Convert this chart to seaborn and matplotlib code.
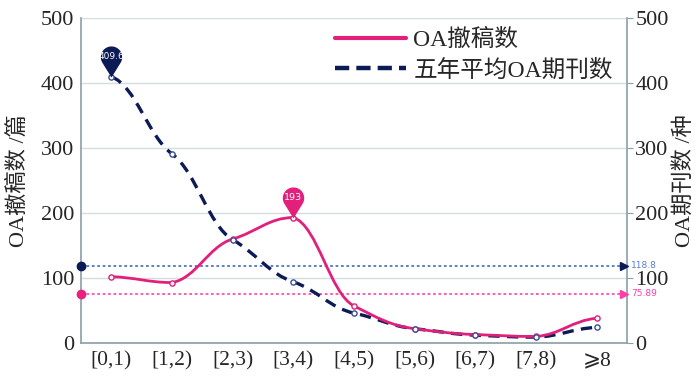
import numpy as np
import seaborn as sns
import matplotlib.pyplot as plt
from matplotlib.path import Path
from matplotlib.patches import PathPatch
from matplotlib.lines import Line2D

# data
categories = ['[0,1)', '[1,2)', '[2,3)', '[3,4)', '[4,5)', '[5,6)', '[6,7)', '[7,8)', '⩾8']
retractions = [102, 93, 160, 193, 57, 22, 13, 10, 38]
journals = [409.6, 291, 159, 94, 46, 22, 12, 9, 24]
mean_retractions = 75.89
mean_journals = 118.8

PINK = '#e2207c'
NAVY = '#0c1a55'

sns.set_style('white')
plt.rcParams['font.family'] = ['Liberation Serif', 'Noto Sans CJK SC', 'DejaVu Sans']
plt.rcParams['axes.unicode_minus'] = False


def smooth_path(xs, ys, k=0.55, hx=0.4):
    # cubic bezier through the points, handles clamped between neighbours
    verts = [(xs[0], ys[0])]
    codes = [Path.MOVETO]
    n = len(xs)
    slopes = []
    for i in range(n):
        a = ys[max(i - 1, 0)]
        b = ys[min(i + 1, n - 1)]
        slopes.append(k * (b - a) / 2)
    for i in range(n - 1):
        y0, y1 = ys[i], ys[i + 1]
        lo, hi = min(y0, y1), max(y0, y1)
        c1 = np.clip(y0 + slopes[i] * hx, lo, hi)
        c2 = np.clip(y1 - slopes[i + 1] * hx, lo, hi)
        verts += [(xs[i] + hx, c1), (xs[i + 1] - hx, c2), (xs[i + 1], y1)]
        codes += [Path.CURVE4] * 3
    return Path(verts, codes)


PIN_D = 1.9


def pin_marker(d=PIN_D):
    # tip at the origin, round head above it
    phi = np.degrees(np.arccos(1 / d))
    t = np.radians(np.linspace(-90 + phi, 270 - phi, 60))
    pts = [(0, 0)] + [(np.cos(a), d + np.sin(a)) for a in t] + [(0, 0)]
    codes = [Path.MOVETO] + [Path.LINETO] * (len(pts) - 2) + [Path.CLOSEPOLY]
    return Path(pts, codes)


fig = plt.figure(figsize=(7, 3.84), dpi=100)
ax = fig.add_axes([0.1157, 0.1068, 0.78, 0.8462])
x = np.arange(len(categories))

ax.add_patch(PathPatch(smooth_path(x, retractions), fill=False, edgecolor=PINK, lw=2, zorder=4))
ax.add_patch(PathPatch(smooth_path(x, journals), fill=False, edgecolor=NAVY, lw=2.4,
                       linestyle=(0, (3.4, 2.2)), zorder=3))
sns.scatterplot(x=x, y=retractions, ax=ax, s=14, color='white', edgecolor=PINK, linewidth=1, zorder=5)
sns.scatterplot(x=x, y=journals, ax=ax, s=14, color='white', edgecolor='#3a4f95', linewidth=1, zorder=5)

# mean lines
ax.axhline(mean_journals, color='#4d74c4', lw=1.3, ls=(0, (1.5, 1.5)), zorder=2)
ax.axhline(mean_retractions, color='#ff4fae', lw=1.3, ls=(0, (1.5, 1.5)), zorder=2)
ax.plot([-0.5], [mean_journals], 'o', color=NAVY, ms=6, clip_on=False, zorder=6)
ax.plot([-0.5], [mean_retractions], 'o', color='#e8207f', ms=6, clip_on=False, zorder=6)
ax.plot([8.45], [mean_journals], '>', color=NAVY, ms=6, clip_on=False, zorder=6)
ax.plot([8.45], [mean_retractions], '>', color='#ff3fa5', ms=6, clip_on=False, zorder=6)
ax.annotate(f'{mean_journals}', (8.5, mean_journals), xytext=(3, 0), textcoords='offset points',
            fontsize=6.5, color='#5a7fd0', va='center', family='DejaVu Sans')
ax.annotate(f'{mean_retractions}', (8.5, mean_retractions), xytext=(3, 0), textcoords='offset points',
            fontsize=6.5, color='#ff3fa5', va='center', family='DejaVu Sans')

# pins on the maxima
pin = pin_marker()
i_j = int(np.argmax(journals))
i_r = int(np.argmax(retractions))
pin_s = 2000
head = np.sqrt(pin_s) * 0.5 / (PIN_D + 1) * PIN_D
ax.scatter([x[i_j]], [journals[i_j]], marker=pin, s=pin_s, color=NAVY, linewidths=0, zorder=7)
ax.scatter([x[i_r]], [retractions[i_r]], marker=pin, s=pin_s, color=PINK, linewidths=0, zorder=7)
ax.annotate(f'{journals[i_j]}', (x[i_j], journals[i_j]), xytext=(0, head), textcoords='offset points',
            ha='center', va='center', fontsize=6.5, color='white', family='DejaVu Sans', zorder=8)
ax.annotate(f'{retractions[i_r]}', (x[i_r], retractions[i_r]), xytext=(0, head), textcoords='offset points',
            ha='center', va='center', fontsize=6.8, color='white', family='DejaVu Sans', zorder=8)

ax.set_xlim(-0.5, len(categories) - 0.5)
ax.set_ylim(0, 500)
ax.set_yticks([0, 100, 200, 300, 400, 500])
ax.set_xticks(x)
ax.set_xticklabels(categories, fontsize=15.5)
ax.set_xticks(np.arange(0.5, len(categories) - 1, 1), minor=True)
ax.tick_params(axis='x', which='major', length=0, pad=6)
ax.tick_params(axis='x', which='minor', length=4, color='#8aa0a8', direction='out')
ax.tick_params(axis='y', labelsize=16, length=0, pad=5)
ax.grid(axis='y', color='#d3dede', lw=1)
ax.set_ylabel('OA撤稿数 /篇', fontsize=16, labelpad=8.5)
for s in ['left', 'bottom', 'right']:
    ax.spines[s].set_color('#8aa0a8')
    ax.spines[s].set_linewidth(1.2)
ax.spines['top'].set_visible(False)

ax2 = ax.twinx()
ax2.set_ylim(0, 500)
ax2.set_yticks([0, 100, 200, 300, 400, 500])
ax2.tick_params(axis='y', labelsize=16, length=4, color='#8aa0a8', pad=2)
ax2.set_ylabel('OA期刊数 /种', fontsize=16, labelpad=3.5)
for s in ax2.spines.values():
    s.set_visible(False)

handles = [Line2D([], [], color=PINK, lw=3),
           Line2D([], [], color=NAVY, lw=3.2, ls=(0, (3.2, 1.6)))]
ax.legend(handles, ['OA撤稿数', '五年平均OA期刊数'], loc='upper right', bbox_to_anchor=(1.0, 1.01),
          frameon=False, fontsize=17, handlelength=3.0, handletextpad=0.3, labelspacing=0.35,
          borderaxespad=0.2)

fig.savefig('out.png', dpi=100)
